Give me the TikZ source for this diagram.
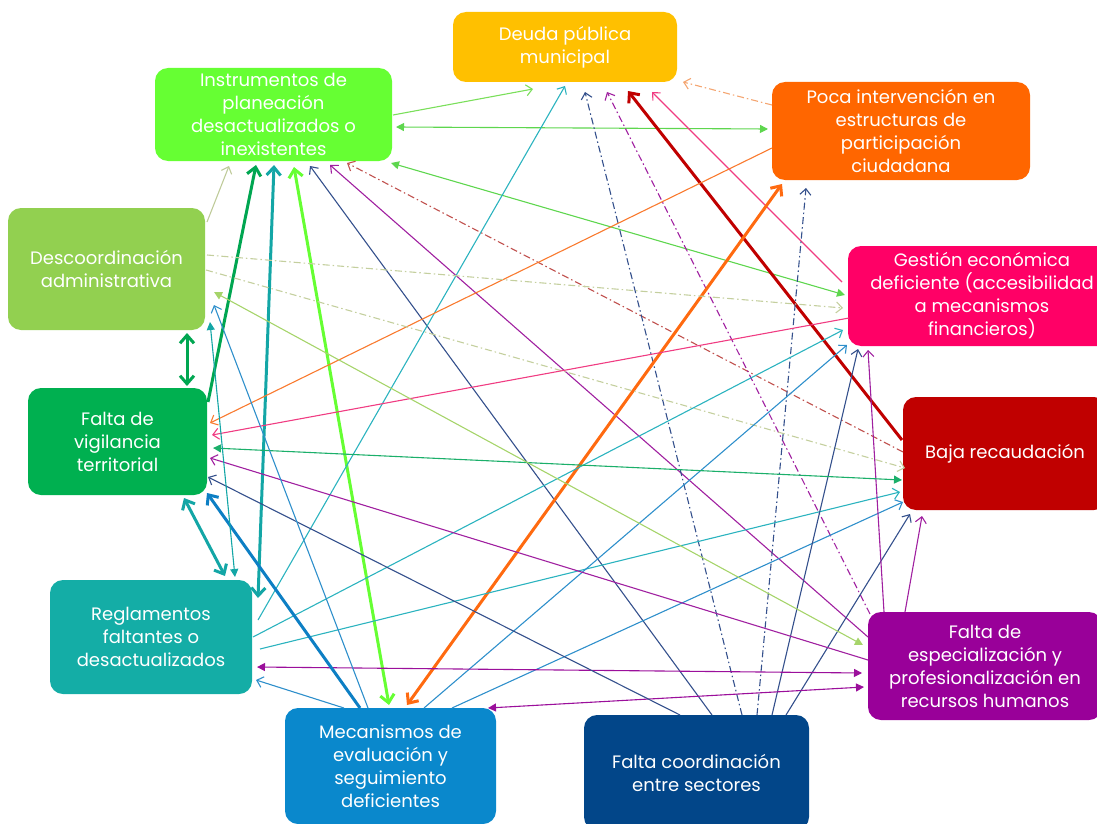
\documentclass[tikz,border=0pt]{standalone}
\usepackage{fontspec}
\setmainfont{Poppins}
\usetikzlibrary{arrows.meta,calc}
\definecolor{cD}{HTML}{FFC000}
\definecolor{cI}{HTML}{66FF33}
\definecolor{cP}{HTML}{FF6600}
\definecolor{cDA}{HTML}{92D050}
\definecolor{cG}{HTML}{FF0066}
\definecolor{cV}{HTML}{00B050}
\definecolor{cB}{HTML}{C00000}
\definecolor{cR}{HTML}{14ADA6}
\definecolor{cE}{HTML}{990099}
\definecolor{cM}{HTML}{0A88CC}
\definecolor{cC}{HTML}{024689}
\definecolor{lLime}{HTML}{7ADF5A}
\definecolor{lGreen}{HTML}{5ED64E}
\definecolor{lKhaki}{HTML}{BFCB9A}
\definecolor{lDkGreen}{HTML}{00A651}
\definecolor{lTeal}{HTML}{13A6A6}
\definecolor{lBright}{HTML}{66FF33}
\definecolor{lNavy}{HTML}{34508C}
\definecolor{lPurple}{HTML}{A020A0}
\definecolor{lRedDD}{HTML}{C0504D}
\definecolor{lTealThin}{HTML}{2BB3BF}
\definecolor{lPink}{HTML}{F03C82}
\definecolor{lOrange}{HTML}{F97A2E}
\definecolor{lOrangeDD}{HTML}{F4A672}
\definecolor{lKhakiDD}{HTML}{C4CF9E}
\definecolor{lBlue}{HTML}{2E8FCB}
\definecolor{lBlueThick}{HTML}{0D7FC4}
\definecolor{lRed}{HTML}{C00000}
\definecolor{lVB}{HTML}{1BAF6A}
\definecolor{lDAE}{HTML}{A6D46A}
\definecolor{lPurpF}{HTML}{9B0F9B}
\definecolor{lOrangeThick}{HTML}{FF6A10}
\tikzset{
  box/.style={rounded corners=13pt, draw=none, text=white, align=center,
    inner sep=0pt, outer sep=0pt, font=\fontsize{18}{23}\selectfont},
  lnA/.style={line width=1.1pt},
  lnB/.style={line width=3pt},
  dd/.style={dash pattern=on 7pt off 3pt on 1.5pt off 3pt},
  oend/.style={-{Straight Barb[length=6pt,width=11pt]}},
  oboth/.style={{Straight Barb[length=6pt,width=11pt]}-{Straight Barb[length=6pt,width=11pt]}},
  tend/.style={-{Straight Barb[length=8pt,width=14pt]}},
  tboth/.style={{Straight Barb[length=8pt,width=14pt]}-{Straight Barb[length=8pt,width=14pt]}},
  fboth/.style={{Triangle[length=8pt,width=8pt]}-{Triangle[length=8pt,width=8pt]}},
}
\begin{document}
\begin{tikzpicture}[x=1pt,y=-1pt]
\useasboundingbox (0,0) rectangle (1097,824);
% nodes
\node[box, fill=cD, minimum width=224pt, minimum height=70pt] (D) at (565,47) {Deuda pública\\municipal};
\node[box, fill=cI, minimum width=237pt, minimum height=93pt] (I) at (273.5,114.5) {Instrumentos de\\planeación\\desactualizados o\\inexistentes};
\node[box, fill=cP, minimum width=258pt, minimum height=98pt] (P) at (901,131) {Poca intervención en\\estructuras de\\participación\\ciudadana};
\node[box, fill=cDA, minimum width=197pt, minimum height=122pt] (DA) at (106.5,269) {Descoordinación\\administrativa};
\node[box, fill=cG, minimum width=268pt, minimum height=100pt] (G) at (982,296) {Gestión económica\\deficiente (accesibilidad\\a mecanismos\\financieros)};
\node[box, fill=cV, minimum width=179pt, minimum height=107pt] (V) at (117.5,441.5) {Falta de\\vigilancia\\territorial};
\node[box, fill=cB, minimum width=204pt, minimum height=113pt] (B) at (1005,453.5) {Baja recaudación};
\node[box, fill=cR, minimum width=202pt, minimum height=114pt] (R) at (151,637) {Reglamentos\\faltantes o\\desactualizados};
\node[box, fill=cE, minimum width=234pt, minimum height=108pt] (E) at (985,666) {Falta de\\especialización y\\profesionalización en\\recursos humanos};
\node[box, fill=cM, minimum width=211pt, minimum height=116pt] (M) at (390.5,766) {Mecanismos de\\evaluación y\\seguimiento\\deficientes};
\node[box, fill=cC, minimum width=225pt, minimum height=115pt] (C) at (696.5,772.5) {Falta coordinación\\entre sectores};
% connectors
\draw[lnA, lLime, oend] ($(I.north west)+(238,47)$) -- ($(D.north west)+(80,77)$);
\draw[lnA, lGreen, fboth] ($(I.north west)+(241,59)$) -- ($(P.north west)+(-4,47)$);
\draw[lnA, lGreen, fboth] ($(I.north west)+(236,95)$) -- ($(G.north west)+(-3,49)$);
\draw[lnA, lKhaki, oend] ($(DA.north west)+(199,14)$) -- ($(I.north west)+(74,98)$);
\draw[lnB, lDkGreen, tend] ($(V.north west)+(180,14)$) -- ($(I.north west)+(101,97)$);
\draw[lnB, lTeal, tboth] ($(R.north west)+(208,18)$) -- ($(I.north west)+(119,97)$);
\draw[lnB, lBright, tboth] ($(M.north west)+(104,-3)$) -- ($(I.north west)+(139,99)$);
\draw[lnA, lNavy, oend] ($(C.north west)+(128,0)$) -- ($(I.north west)+(155,98)$);
\draw[lnA, lPurple, oend] ($(E.north west)+(0,25)$) -- ($(I.north west)+(175,97)$);
\draw[lnA, lRedDD, dd, oend] ($(B.north west)+(0,55)$) -- ($(I.north west)+(192,95)$);
\draw[lnA, lTealThin, oend] ($(R.north west)+(208,40)$) -- ($(D.north west)+(112,74)$);
\draw[lnA, lNavy, dd, oend] ($(C.north west)+(158,0)$) -- ($(D.north west)+(132,80)$);
\draw[lnA, lPurple, dd, oend] ($(E.north west)+(2,2)$) -- ($(D.north west)+(154,80)$);
\draw[lnB, lRed, tend] ($(B.north west)+(-1,43)$) -- ($(D.north west)+(175,79)$);
\draw[lnA, lPink, oend] ($(G.north west)+(-6,36)$) -- ($(D.north west)+(199,80)$);
\draw[lnA, lOrangeDD, dd, oend] ($(P.north west)+(0,23)$) -- ($(D.north west)+(230,70)$);
\draw[lnB, lOrangeThick, tboth] ($(M.north west)+(122,-3)$) -- ($(P.north west)+(10,102)$);
\draw[lnA, lNavy, dd, oend] ($(C.north west)+(173,0)$) -- ($(P.north west)+(34,106)$);
\draw[lnA, lOrange, oend] ($(P.north west)+(0,66)$) -- ($(V.north west)+(182,35)$);
\draw[lnA, lKhakiDD, dd, oend] ($(DA.north west)+(199,47)$) -- ($(G.north west)+(-5,62)$);
\draw[lnA, lKhakiDD, dd, oend] ($(DA.north west)+(198,62)$) -- ($(B.north west)+(2,71)$);
\draw[lnA, lPink, oend] ($(G.north west)+(1,72)$) -- ($(V.north west)+(184,47)$);
\draw[lnA, lTealThin, oend] ($(R.north west)+(203,57)$) -- ($(G.north west)+(-5,84)$);
\draw[lnA, lTealThin, oend] ($(R.north west)+(210,69)$) -- ($(B.north west)+(-3,95)$);
\draw[lnA, lBlue, oend] ($(M.north west)+(139,0)$) -- ($(G.north west)+(-1,99)$);
\draw[lnA, lBlue, oend] ($(M.north west)+(167,0)$) -- ($(B.north west)+(0,105)$);
\draw[lnA, lNavy, oend] ($(C.north west)+(188,0)$) -- ($(G.north west)+(10,103)$);
\draw[lnA, lNavy, oend] ($(C.north west)+(202,0)$) -- ($(B.north west)+(7,117)$);
\draw[lnA, lPurple, oend] ($(E.north west)+(16,0)$) -- ($(G.north west)+(20,104)$);
\draw[lnA, lPurple, oend] ($(E.north west)+(37,0)$) -- ($(B.north west)+(19,119)$);
\draw[lnA, lVB, fboth] ($(V.north west)+(185,60)$) -- ($(B.north west)+(-1,83)$);
\draw[lnA, lDAE, fboth] ($(DA.north west)+(206,84)$) -- ($(E.north west)+(-5,33)$);
\draw[lnA, lPurple, oend] ($(E.north west)+(0,48)$) -- ($(V.north west)+(182,70)$);
\draw[lnA, lPurpF, fboth] ($(R.north west)+(207,87)$) -- ($(E.north west)+(-6,61)$);
\draw[lnA, lPurpF, fboth] ($(M.north west)+(203,0)$) -- ($(E.north west)+(-4,75)$);
\draw[lnA, lNavy, oend] ($(C.north west)+(96,0)$) -- ($(V.north west)+(180,89)$);
\draw[lnB, lDkGreen, tboth] ($(DA.north west)+(179,125)$) -- ($(V.north west)+(159,-2)$);
\draw[lnB, lTeal, tboth] ($(V.north west)+(156,110)$) -- ($(R.north west)+(175,-4)$);
\draw[lnB, lBlueThick, tend] ($(M.north west)+(75,0)$) -- ($(V.north west)+(179,105)$);
\draw[lnA, lBlue, oend] ($(M.north west)+(83,0)$) -- ($(DA.north west)+(206,97)$);
\draw[lnA, lTeal, fboth] ($(DA.north west)+(202,114)$) -- ($(R.north west)+(185,-3)$);
\draw[lnA, lBlue, oend] ($(M.north west)+(59,0)$) -- ($(R.north west)+(206,100)$);
\end{tikzpicture}
\end{document}
